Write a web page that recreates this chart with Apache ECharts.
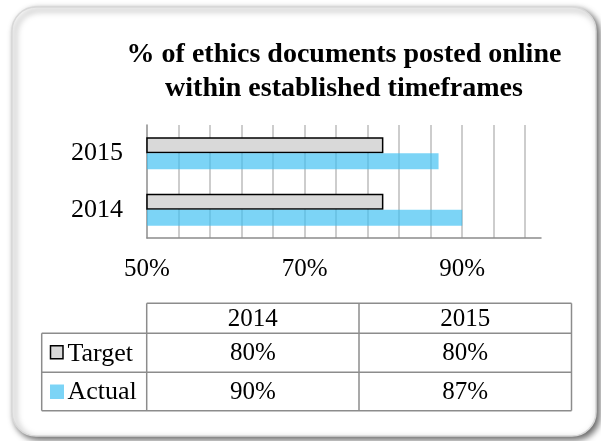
<!DOCTYPE html>
<html>
<head>
<meta charset="utf-8">
<script src="https://cdn.jsdelivr.net/npm/echarts@6/dist/echarts.min.js"></script>
<style>
html,body{margin:0;padding:0;background:#fff;}
#chart{width:601px;height:441px;}
</style>
</head>
<body>
<div id="chart"></div>
<script>
const categories = ['2014', '2015'];
const seriesNames = ['Target', 'Actual'];
const targetValues = [80, 80];
const actualValues = [90, 87];
const xTickLabels = ['50%', '70%', '90%'];
const titleLines = ['% of ethics documents posted online', 'within established timeframes'];

const FONT = '"Liberation Serif", "Times New Roman", serif';
const GRAY_FILL = '#d9d9d9';
const BLUE = 'rgb(62,192,242)';

const chart = echarts.init(document.getElementById('chart'), null, {renderer: 'canvas'});

// table geometry
const tX0 = 41.7, tX1 = 146.7, tX2 = 359, tX3 = 571.5;
const tY0 = 303.3, tY1 = 333.3, tY2 = 372.3, tY3 = 410.7;
const colX = [tX1, tX2, tX3];
const rowY = [tY1, tY2, tY3];
const lineStyle = {stroke: '#8c8c8c', lineWidth: 1.5};
const TFONT = '25px ' + FONT;

const graphics = [];
graphics.push({
  type: 'rect', z: -100, silent: true,
  shape: {x: 12, y: 7, width: 584, height: 429, r: 24},
  style: {fill: '#fff', stroke: '#d8d8d8', lineWidth: 1.5,
    shadowBlur: 6, shadowOffsetX: 3, shadowOffsetY: 3, shadowColor: 'rgba(0,0,0,0.6)'}
});
graphics.push({type: 'line', shape: {x1: tX1, y1: tY0, x2: tX3, y2: tY0}, style: lineStyle});
[tY1, tY2, tY3].forEach(y => graphics.push({type: 'line', shape: {x1: tX0, y1: y, x2: tX3, y2: y}, style: lineStyle}));
graphics.push({type: 'line', shape: {x1: tX0, y1: tY1, x2: tX0, y2: tY3}, style: lineStyle});
[tX1, tX2, tX3].forEach(x => graphics.push({type: 'line', shape: {x1: x, y1: tY0, x2: x, y2: tY3}, style: lineStyle}));

categories.forEach((c, i) => {
  graphics.push({type: 'text', x: (colX[i] + colX[i + 1]) / 2, y: (tY0 + tY1) / 2 + 1,
    style: {text: c, font: TFONT, fill: '#000', align: 'center', verticalAlign: 'middle'}});
});
const rowValues = [targetValues, actualValues];
rowValues.forEach((vals, r) => {
  const cy = (rowY[r] + rowY[r + 1]) / 2 + 1;
  vals.forEach((v, i) => {
    graphics.push({type: 'text', x: (colX[i] + colX[i + 1]) / 2, y: cy,
      style: {text: v + '%', font: TFONT, fill: '#000', align: 'center', verticalAlign: 'middle'}});
  });
  if (r === 0) {
    graphics.push({type: 'rect', shape: {x: 50.5, y: cy - 8, width: 12.5, height: 13},
      style: {fill: GRAY_FILL, stroke: '#000', lineWidth: 1.5}});
  } else {
    graphics.push({type: 'rect', shape: {x: 50, y: cy - 8, width: 14, height: 14.5},
      style: {fill: BLUE, opacity: 0.68}});
  }
  graphics.push({type: 'text', x: 67.5, y: cy,
    style: {text: seriesNames[r], font: '26px ' + FONT, fill: '#000', align: 'left', verticalAlign: 'middle'}});
});

const option = {
  backgroundColor: '#fff',
  animation: false,
  title: {
    text: titleLines.join('\n'),
    left: 339, top: 33, textAlign: 'center',
    textStyle: {fontFamily: FONT, fontWeight: 'bold', fontSize: 28, lineHeight: 34, color: '#000'}
  },
  grid: {left: 147, top: 125, width: 394, height: 113, containLabel: false},
  xAxis: [
    {
      type: 'value', min: 50, max: 100, interval: 10,
      axisLine: {show: true, lineStyle: {color: '#8c8c8c', width: 1.5}},
      axisTick: {show: false},
      splitLine: {show: false},
      axisLabel: {
        show: true, margin: 19, color: '#000', fontFamily: FONT, fontSize: 25,
        formatter: v => xTickLabels.includes(v + '%') ? v + '%' : ''
      }
    },
    {
      type: 'value', min: 0, max: 50, interval: 4, position: 'bottom',
      axisLine: {show: false}, axisTick: {show: false}, axisLabel: {show: false},
      splitLine: {show: true, showMinLine: false, showMaxLine: false, lineStyle: {color: '#bdbdbd', width: 1.5}}
    }
  ],
  yAxis: {
    type: 'category', data: categories,
    axisLine: {show: true, lineStyle: {color: '#8c8c8c', width: 1.5}},
    axisTick: {show: false},
    axisLabel: {color: '#000', fontFamily: FONT, fontSize: 26, margin: 24}
  },
  series: [
    {
      name: seriesNames[0], type: 'bar', data: targetValues, xAxisIndex: 0,
      barWidth: 16, barGap: '0%',
      itemStyle: {color: GRAY_FILL, borderColor: '#000', borderWidth: 1.5}
    },
    {
      name: seriesNames[1], type: 'bar', data: actualValues, xAxisIndex: 0,
      barWidth: 16, barGap: '0%',
      itemStyle: {color: BLUE, opacity: 0.68}
    }
  ],
  graphic: {elements: graphics}
};
chart.setOption(option);
</script>
</body>
</html>
